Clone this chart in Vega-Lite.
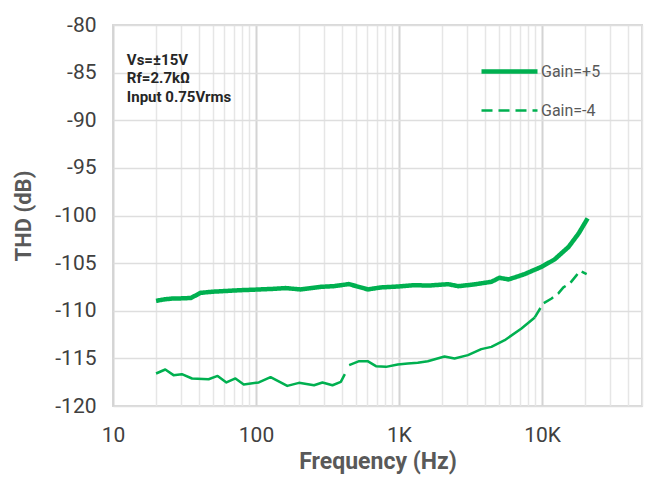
{
  "$schema": "https://vega.github.io/schema/vega-lite/v6.json",
  "width": 529,
  "height": 381,
  "autosize": "none",
  "padding": {"left": 113, "top": 25, "right": 20, "bottom": 75},
  "background": "white",
  "config": {
    "font": "Roboto",
    "view": {"stroke": "#d9d9d9", "strokeWidth": 2},
    "legend": {"labelFontSize": 16, "labelColor": "#595959", "labelFont": "Roboto"}
  },
  "datasets": {
    "curves": [
      {"series": "Gain=+5", "part": "main", "f": 20, "thd": -108.96},
      {"series": "Gain=+5", "part": "main", "f": 23, "thd": -108.8},
      {"series": "Gain=+5", "part": "main", "f": 26, "thd": -108.72},
      {"series": "Gain=+5", "part": "main", "f": 30, "thd": -108.7},
      {"series": "Gain=+5", "part": "main", "f": 35, "thd": -108.66},
      {"series": "Gain=+5", "part": "main", "f": 41, "thd": -108.12},
      {"series": "Gain=+5", "part": "main", "f": 50, "thd": -108.0},
      {"series": "Gain=+5", "part": "main", "f": 78, "thd": -107.84},
      {"series": "Gain=+5", "part": "main", "f": 100, "thd": -107.78},
      {"series": "Gain=+5", "part": "main", "f": 133, "thd": -107.7},
      {"series": "Gain=+5", "part": "main", "f": 160, "thd": -107.62},
      {"series": "Gain=+5", "part": "main", "f": 205, "thd": -107.76},
      {"series": "Gain=+5", "part": "main", "f": 284, "thd": -107.49},
      {"series": "Gain=+5", "part": "main", "f": 350, "thd": -107.42},
      {"series": "Gain=+5", "part": "main", "f": 446, "thd": -107.2},
      {"series": "Gain=+5", "part": "main", "f": 606, "thd": -107.76},
      {"series": "Gain=+5", "part": "main", "f": 748, "thd": -107.55},
      {"series": "Gain=+5", "part": "main", "f": 1000, "thd": -107.45},
      {"series": "Gain=+5", "part": "main", "f": 1274, "thd": -107.31},
      {"series": "Gain=+5", "part": "main", "f": 1600, "thd": -107.36},
      {"series": "Gain=+5", "part": "main", "f": 2208, "thd": -107.21},
      {"series": "Gain=+5", "part": "main", "f": 2594, "thd": -107.42},
      {"series": "Gain=+5", "part": "main", "f": 3300, "thd": -107.25},
      {"series": "Gain=+5", "part": "main", "f": 4426, "thd": -106.96},
      {"series": "Gain=+5", "part": "main", "f": 5035, "thd": -106.54},
      {"series": "Gain=+5", "part": "main", "f": 5821, "thd": -106.71},
      {"series": "Gain=+5", "part": "main", "f": 6600, "thd": -106.45},
      {"series": "Gain=+5", "part": "main", "f": 7534, "thd": -106.16},
      {"series": "Gain=+5", "part": "main", "f": 9910, "thd": -105.39},
      {"series": "Gain=+5", "part": "main", "f": 12240, "thd": -104.61},
      {"series": "Gain=+5", "part": "main", "f": 15350, "thd": -103.29},
      {"series": "Gain=+5", "part": "main", "f": 18040, "thd": -101.88},
      {"series": "Gain=+5", "part": "main", "f": 20840, "thd": -100.3},
      {"series": "Gain=-4", "part": "solid", "seg": "a", "f": 20, "thd": -116.59},
      {"series": "Gain=-4", "part": "solid", "seg": "a", "f": 23.2, "thd": -116.17},
      {"series": "Gain=-4", "part": "solid", "seg": "a", "f": 26.5, "thd": -116.76},
      {"series": "Gain=-4", "part": "solid", "seg": "a", "f": 30.3, "thd": -116.66},
      {"series": "Gain=-4", "part": "solid", "seg": "a", "f": 35.7, "thd": -117.11},
      {"series": "Gain=-4", "part": "solid", "seg": "a", "f": 46.6, "thd": -117.19},
      {"series": "Gain=-4", "part": "solid", "seg": "a", "f": 53.9, "thd": -116.84},
      {"series": "Gain=-4", "part": "solid", "seg": "a", "f": 62.1, "thd": -117.53},
      {"series": "Gain=-4", "part": "solid", "seg": "a", "f": 71.8, "thd": -117.11},
      {"series": "Gain=-4", "part": "solid", "seg": "a", "f": 82.1, "thd": -117.74},
      {"series": "Gain=-4", "part": "solid", "seg": "a", "f": 104.6, "thd": -117.53},
      {"series": "Gain=-4", "part": "solid", "seg": "a", "f": 126.4, "thd": -116.97},
      {"series": "Gain=-4", "part": "solid", "seg": "a", "f": 165.5, "thd": -117.89},
      {"series": "Gain=-4", "part": "solid", "seg": "a", "f": 199.7, "thd": -117.57},
      {"series": "Gain=-4", "part": "solid", "seg": "a", "f": 254.5, "thd": -117.82},
      {"series": "Gain=-4", "part": "solid", "seg": "a", "f": 291.4, "thd": -117.53},
      {"series": "Gain=-4", "part": "solid", "seg": "a", "f": 342.5, "thd": -117.82},
      {"series": "Gain=-4", "part": "solid", "seg": "a", "f": 391.7, "thd": -117.47},
      {"series": "Gain=-4", "part": "solid", "seg": "a", "f": 418, "thd": -116.66},
      {"series": "Gain=-4", "part": "solid", "seg": "b", "f": 448, "thd": -115.71},
      {"series": "Gain=-4", "part": "solid", "seg": "b", "f": 526, "thd": -115.29},
      {"series": "Gain=-4", "part": "solid", "seg": "b", "f": 603, "thd": -115.29},
      {"series": "Gain=-4", "part": "solid", "seg": "b", "f": 690, "thd": -115.82},
      {"series": "Gain=-4", "part": "solid", "seg": "b", "f": 811, "thd": -115.89},
      {"series": "Gain=-4", "part": "solid", "seg": "b", "f": 979, "thd": -115.64},
      {"series": "Gain=-4", "part": "solid", "seg": "b", "f": 1151, "thd": -115.54},
      {"series": "Gain=-4", "part": "solid", "seg": "b", "f": 1352, "thd": -115.47},
      {"series": "Gain=-4", "part": "solid", "seg": "b", "f": 1589, "thd": -115.3},
      {"series": "Gain=-4", "part": "solid", "seg": "b", "f": 2080, "thd": -114.8},
      {"series": "Gain=-4", "part": "solid", "seg": "b", "f": 2444, "thd": -115.01},
      {"series": "Gain=-4", "part": "solid", "seg": "b", "f": 3033, "thd": -114.66},
      {"series": "Gain=-4", "part": "solid", "seg": "b", "f": 3758, "thd": -114.03},
      {"series": "Gain=-4", "part": "solid", "seg": "b", "f": 4424, "thd": -113.79},
      {"series": "Gain=-4", "part": "solid", "seg": "b", "f": 5483, "thd": -113.09},
      {"series": "Gain=-4", "part": "solid", "seg": "b", "f": 7180, "thd": -111.86},
      {"series": "Gain=-4", "part": "solid", "seg": "b", "f": 8897, "thd": -110.7},
      {"series": "Gain=-4", "part": "dash", "f": 8897, "thd": -110.7},
      {"series": "Gain=-4", "part": "dash", "f": 10190, "thd": -109.23},
      {"series": "Gain=-4", "part": "dash", "f": 11670, "thd": -108.71},
      {"series": "Gain=-4", "part": "dash", "f": 13000, "thd": -108.18},
      {"series": "Gain=-4", "part": "dash", "f": 14100, "thd": -107.55},
      {"series": "Gain=-4", "part": "dash", "f": 15670, "thd": -107.13},
      {"series": "Gain=-4", "part": "dash", "f": 17460, "thd": -106.26},
      {"series": "Gain=-4", "part": "dash", "f": 18420, "thd": -105.81},
      {"series": "Gain=-4", "part": "dash", "f": 20510, "thd": -106.16}
    ]
  },
  "layer": [
    {
      "data": {"name": "curves"},
      "transform": [{"filter": "datum.part != 'solid'"}],
      "mark": {"type": "line", "color": "#00B050", "strokeCap": "butt", "strokeJoin": "round"},
      "encoding": {
        "x": {
          "field": "f",
          "type": "quantitative",
          "scale": {"type": "log", "domain": [10, 50000], "nice": false},
          "axis": {
            "values": [10, 20, 30, 40, 50, 60, 70, 80, 90, 100, 200, 300, 400, 500, 600, 700, 800, 900, 1000, 2000, 3000, 4000, 5000, 6000, 7000, 8000, 9000, 10000, 20000, 30000, 40000, 50000],
            "labelExpr": "(datum.value == 10 || datum.value == 100) ? ('' + datum.value) : ((datum.value == 1000 || datum.value == 10000) ? ((datum.value / 1000) + 'K') : '')",
            "labelOverlap": false,
            "labelFlush": false,
            "ticks": false,
            "domain": false,
            "labelFontSize": 21,
            "labelColor": "#404040",
            "labelPadding": 18,
            "title": "Frequency (Hz)",
            "titleFontSize": 23,
            "titleFontWeight": "bold",
            "titleColor": "#595959",
            "titlePadding": 5,
            "gridColor": {"condition": {"test": "datum.value == 10 || datum.value == 100 || datum.value == 1000 || datum.value == 10000", "value": "#d4d4d4"}, "value": "#e6e6e6"},
            "gridWidth": {"condition": {"test": "datum.value == 10 || datum.value == 100 || datum.value == 1000 || datum.value == 10000", "value": 2}, "value": 1.5}
          }
        },
        "y": {
          "field": "thd",
          "type": "quantitative",
          "scale": {"domain": [-120, -80], "nice": false},
          "axis": {
            "values": [-120, -115, -110, -105, -100, -95, -90, -85, -80],
            "labelExpr": "'' + datum.value",
            "ticks": false,
            "domain": false,
            "labelFontSize": 21,
            "labelColor": "#404040",
            "labelPadding": 17,
            "title": "THD (dB)",
            "titleFontSize": 22,
            "titleFontWeight": "bold",
            "titleColor": "#595959",
            "titlePadding": 19,
            "gridColor": "#dedede",
            "gridWidth": 1.5
          }
        },
        "strokeDash": {
          "field": "series",
          "type": "nominal",
          "scale": {"domain": ["Gain=+5", "Gain=-4"], "range": [[1, 0], [11, 6]]},
          "legend": {
            "orient": "none",
            "legendX": 380,
            "legendY": 30,
            "title": null,
            "symbolType": "M-2,0H2",
            "symbolSize": 784,
            "symbolStrokeColor": "#00B050",
            "labelOffset": 15,
            "labelFontSize": 16,
            "labelColor": "#595959",
            "rowPadding": 14,
            "padding": 0,
            "encode": {
              "labels": {"update": {"fontSize": {"value": 16}, "fill": {"value": "#595959"}}},
              "symbols": {"update": {"strokeWidth": {"signal": "datum.value == 'Gain=+5' ? 4.5 : 3"}}}
            }
          }
        },
        "strokeWidth": {
          "field": "series",
          "type": "nominal",
          "scale": {"domain": ["Gain=+5", "Gain=-4"], "range": [4.5, 2.5]},
          "legend": null
        }
      }
    },
    {
      "data": {"name": "curves"},
      "transform": [{"filter": "datum.part == 'solid'"}],
      "mark": {"type": "line", "color": "#00B050", "strokeWidth": 2.5, "strokeJoin": "round"},
      "encoding": {
        "x": {"field": "f", "type": "quantitative"},
        "y": {"field": "thd", "type": "quantitative"},
        "detail": {"field": "seg", "type": "nominal"}
      }
    },
    {
      "data": {"values": [{}]},
      "mark": {"type": "text", "align": "left", "baseline": "top", "fontWeight": "bold", "fontSize": 15, "lineHeight": 18.5, "color": "#262626"},
      "encoding": {
        "x": {"datum": 12.5, "type": "quantitative"},
        "y": {"datum": -82.9, "type": "quantitative"},
        "text": {"value": ["Vs=±15V", "Rf=2.7kΩ", "Input 0.75Vrms"]}
      }
    }
  ]
}
